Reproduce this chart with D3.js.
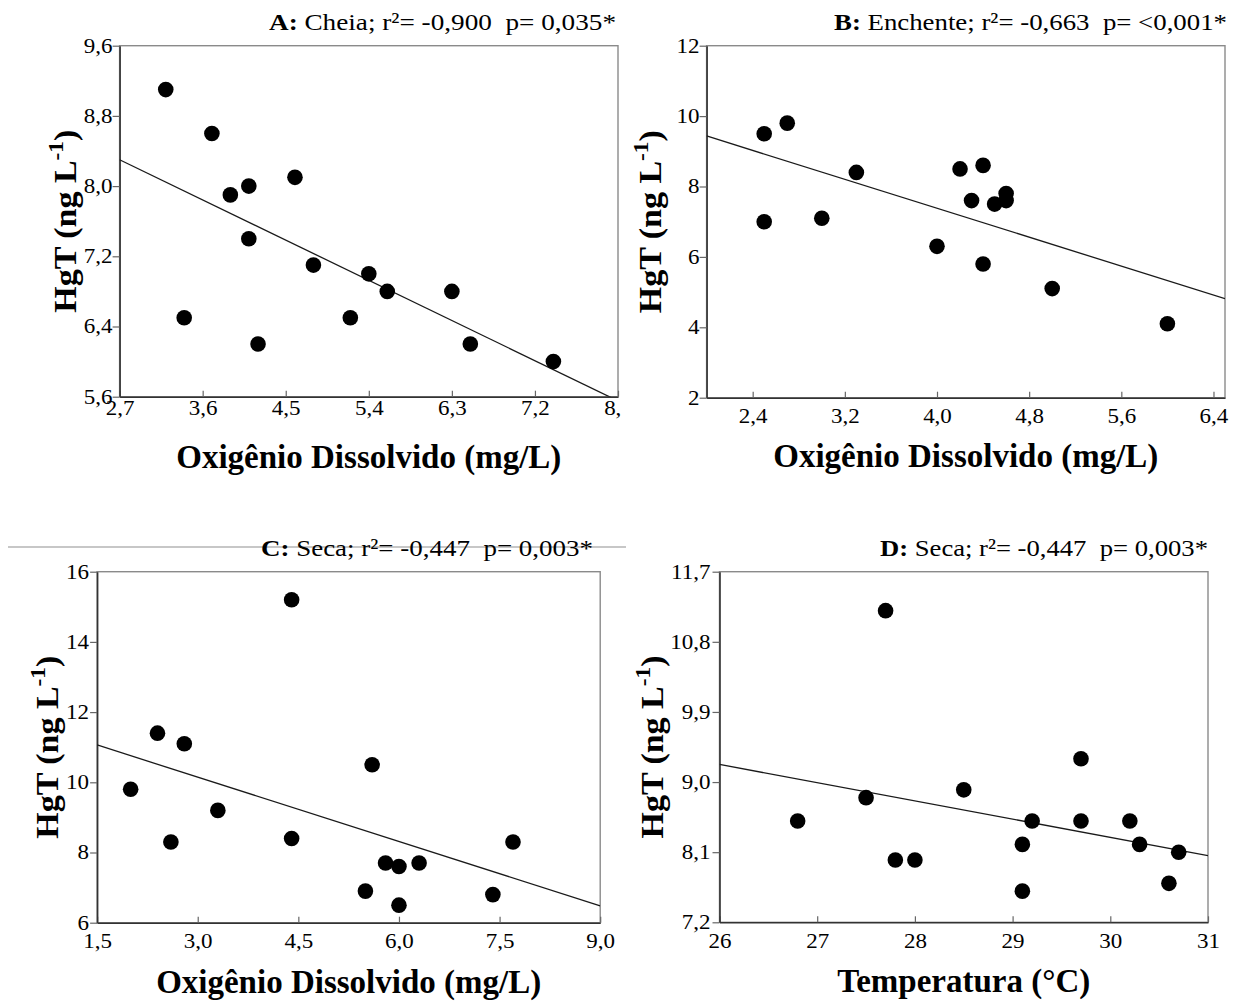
<!DOCTYPE html>
<html>
<head>
<meta charset="utf-8">
<script src="https://cdn.jsdelivr.net/npm/d3@7"></script>
<style>
    body { margin: 0; background: #fff; }
    text { font-family: "Liberation Serif", "Times New Roman", serif; fill: #000; }
</style>
</head>
<body>
<div id="chart"></div>
<script>
// ---- Data ----
// A: Cheia
var oxygenA = [3.2, 3.7, 3.9, 4.1, 4.1, 4.6, 3.4, 4.2, 4.8, 5.4, 5.6, 5.2, 6.3, 6.5, 7.4];
var hgtA    = [9.1, 8.6, 7.9, 8.0, 7.4, 8.1, 6.5, 6.2, 7.1, 7.0, 6.8, 6.5, 6.8, 6.2, 6.0];
var fitA    = [9.675, -0.509];           // intercept, slope
var xTicksA = [2.7, 3.6, 4.5, 5.4, 6.3, 7.2, 8.1];
var yTicksA = [5.6, 6.4, 7.2, 8.0, 8.8, 9.6];

// B: Enchente
var oxygenB = [2.5, 2.7, 2.5, 3.0, 3.3, 4.0, 4.2, 4.4, 4.3, 4.5, 4.6, 4.6, 4.4, 5.0, 6.0];
var hgtB    = [9.5, 9.8, 7.0, 7.1, 8.4, 6.3, 8.5, 8.6, 7.6, 7.5, 7.8, 7.6, 5.8, 5.1, 4.1];
var fitB    = [11.49, -1.027];
var xTicksB = [2.4, 3.2, 4.0, 4.8, 5.6, 6.4];
var yTicksB = [2, 4, 6, 8, 10, 12];

// C: Seca (oxigenio)
var oxygenC = [4.4, 2.4, 2.8, 2.0, 3.3, 2.6, 4.4, 5.6, 5.5, 5.8, 6.0, 6.0, 6.3, 7.4, 7.7];
var hgtC    = [15.2, 11.4, 11.1, 9.8, 9.2, 8.3, 8.4, 10.5, 6.9, 7.7, 7.6, 6.5, 7.7, 6.8, 8.3];
var fitC    = [11.98, -0.611];
var xTicksC = [1.5, 3.0, 4.5, 6.0, 7.5, 9.0];
var yTicksC = [6, 8, 10, 12, 14, 16];

// D: Seca (temperatura)
var tempD   = [27.7, 26.8, 27.5, 27.8, 28.0, 28.5, 29.1, 29.2, 29.1, 29.7, 29.7, 30.2, 30.3, 30.7, 30.6];
var hgtD    = [11.2, 8.5, 8.8, 8.0, 8.0, 8.9, 8.2, 8.5, 7.6, 9.3, 8.5, 8.5, 8.2, 8.1, 7.7];
var fitD    = [15.31, -0.234];
var xTicksD = [26, 27, 28, 29, 30, 31];
var yTicksD = [7.2, 8.1, 9.0, 9.9, 10.8, 11.7];

var panelLetters = ["A:", "B:", "C:", "D:"];
var seasons      = ["Cheia", "Enchente", "Seca", "Seca"];
var r2Values     = ["-0,900", "-0,663", "-0,447", "-0,447"];
var pValues      = ["0,035*", "<0,001*", "0,003*", "0,003*"];
var xTitles      = ["Oxigênio Dissolvido (mg/L)", "Oxigênio Dissolvido (mg/L)",
                    "Oxigênio Dissolvido (mg/L)", "Temperatura (°C)"];

var ptBR = d3.formatLocale({ decimal: ",", thousands: ".", grouping: [3], currency: ["R$", ""] });

var svg = d3.select("#chart")
    .append("svg")
    .attr("width", 1243)
    .attr("height", 1003);

// stray rule across the lower-left title (present in the source figure)
svg.append("line")
    .attr("x1", 8).attr("x2", 626)
    .attr("y1", 547).attr("y2", 547)
    .attr("stroke", "#b4b4b4")
    .attr("stroke-width", 1.4);

ScatterPanel = function(_svg, _opts){
    this.svg = _svg;
    this.opts = _opts;
    this.initVis();
};

ScatterPanel.prototype.initVis = function(){
    var vis = this;
    var o = vis.opts;

    vis.width = o.box[2] - o.box[0];
    vis.height = o.box[3] - o.box[1];

    vis.root = vis.svg.append("g");
    if (o.clipRight) {
        vis.root.append("clipPath").attr("id", "panel-clip-" + o.id)
            .append("rect")
            .attr("x", 0).attr("y", 0)
            .attr("width", o.clipRight).attr("height", 1003);
        vis.root.attr("clip-path", "url(#panel-clip-" + o.id + ")");
    }

    vis.g = vis.root.append("g")
        .attr("transform", "translate(" + o.box[0] + "," + o.box[1] + ")");

    // Scales
    vis.x = d3.scaleLinear().domain(o.xDomain).range([0, vis.width]);
    vis.y = d3.scaleLinear().domain(o.yDomain).range([vis.height, 0]);

    // Frame (top / right lighter)
    vis.g.append("rect")
        .attr("width", vis.width)
        .attr("height", vis.height)
        .attr("fill", "none")
        .attr("stroke", "#8a8a8a")
        .attr("stroke-width", 1.4);

    // X-axis, ticks pointing inside
    vis.xAxisCall = d3.axisBottom(vis.x)
        .tickValues(o.xTicks)
        .tickFormat(ptBR.format(o.xFormat))
        .tickSize(-6)
        .tickSizeOuter(0);
    vis.xAxis = vis.g.append("g")
        .attr("class", "x axis")
        .attr("transform", "translate(0," + vis.height + ")")
        .call(vis.xAxisCall);
    vis.xAxis.selectAll("text")
        .attr("y", 0)
        .attr("transform", "translate(0," + o.xLabelGap + ") scale(1.15,1)");

    // Y-axis, short ticks pointing out
    vis.yAxisCall = d3.axisLeft(vis.y)
        .tickValues(o.yTicks)
        .tickFormat(ptBR.format(o.yFormat))
        .tickSize(7)
        .tickSizeOuter(0);
    vis.yAxis = vis.g.append("g")
        .attr("class", "y axis")
        .call(vis.yAxisCall);
    vis.yAxis.selectAll("text")
        .attr("x", 0)
        .attr("transform", "translate(" + (-o.yLabelGap) + ",0) scale(1.15,1)");

    vis.g.selectAll(".axis")
        .attr("font-family", "'Liberation Serif', 'Times New Roman', serif")
        .attr("font-size", 20);
    vis.g.selectAll(".axis text").attr("fill", "#111");
    vis.g.selectAll(".axis .tick line").attr("stroke", "#666").attr("stroke-width", 1.2);
    vis.g.selectAll(".axis .domain").attr("stroke", "#333").attr("stroke-width", 1.6);

    // Regression line, clipped to the plot area
    vis.g.append("clipPath").attr("id", "plot-clip-" + o.id)
        .append("rect")
        .attr("width", vis.width)
        .attr("height", vis.height);

    var line = d3.line()
        .x(function(d){ return vis.x(d); })
        .y(function(d){ return vis.y(o.fit[0] + o.fit[1] * d); });

    vis.g.append("path")
        .attr("clip-path", "url(#plot-clip-" + o.id + ")")
        .attr("fill", "none")
        .attr("stroke", "#1a1a1a")
        .attr("stroke-width", 1.3)
        .attr("d", line(o.xDomain));

    // Points
    vis.g.selectAll(".dot")
        .data(d3.zip(o.xs, o.ys))
        .enter().append("circle")
        .attr("class", "dot")
        .attr("cx", function(d){ return vis.x(d[0]); })
        .attr("cy", function(d){ return vis.y(d[1]); })
        .attr("r", 7.8)
        .attr("fill", "#000");

    // Title
    var title = vis.svg.append("text")
        .attr("x", o.titleRight)
        .attr("y", o.titleY)
        .attr("text-anchor", "end")
        .attr("font-size", 24)
        .attr("textLength", o.titleLength)
        .attr("lengthAdjust", "spacingAndGlyphs")
        .style("white-space", "pre");
    title.append("tspan")
        .attr("font-weight", "bold")
        .text(o.letter);
    title.append("tspan")
        .text(" " + o.season + "; r²= " + o.r2 + "  p= " + o.p);

    // Axis labels
    vis.svg.append("text")
        .attr("x", o.box[0] + vis.width / 2)
        .attr("y", o.xTitleY)
        .attr("text-anchor", "middle")
        .attr("font-size", 33)
        .attr("font-weight", "bold")
        .text(o.xTitle);

    var yLabel = vis.svg.append("text")
        .attr("transform", "translate(" + o.yTitleX + "," + (o.box[1] + vis.height / 2) + ") rotate(-90)")
        .attr("text-anchor", "middle")
        .attr("font-size", 32)
        .attr("font-weight", "bold")
        .attr("textLength", 183)
        .attr("lengthAdjust", "spacingAndGlyphs");
    yLabel.append("tspan").text("HgT (ng L");
    yLabel.append("tspan").attr("font-size", 22).attr("dy", -13).text("-1");
    yLabel.append("tspan").attr("dy", 13).text(")");
};

var panels = [
    { id: "a", xs: oxygenA, ys: hgtA, fit: fitA, xTicks: xTicksA, yTicks: yTicksA,
      xDomain: [2.7, 8.1], yDomain: [5.6, 9.6], xFormat: ".1f", yFormat: ".1f",
      box: [119.6, 45.7, 618, 396.7], clipRight: 621,
      xLabelGap: 4, yLabelGap: 7, titleRight: 616, titleY: 30, titleLength: 347,
      xTitleY: 468, yTitleX: 76 },
    { id: "b", xs: oxygenB, ys: hgtB, fit: fitB, xTicks: xTicksB, yTicks: yTicksB,
      xDomain: [2.0, 6.5], yDomain: [2, 12], xFormat: ".1f", yFormat: "d",
      box: [706.6, 45.7, 1225, 397.7],
      xLabelGap: 11, yLabelGap: 7, titleRight: 1227, titleY: 30, titleLength: 393,
      xTitleY: 467, yTitleX: 661 },
    { id: "c", xs: oxygenC, ys: hgtC, fit: fitC, xTicks: xTicksC, yTicks: yTicksC,
      xDomain: [1.5, 9.0], yDomain: [6, 16], xFormat: ".1f", yFormat: "d",
      box: [97.1, 571.7, 600.2, 922.7],
      xLabelGap: 11, yLabelGap: 8, titleRight: 593, titleY: 556, titleLength: 332,
      xTitleY: 993, yTitleX: 58 },
    { id: "d", xs: tempD, ys: hgtD, fit: fitD, xTicks: xTicksD, yTicks: yTicksD,
      xDomain: [26, 31], yDomain: [7.2, 11.7], xFormat: "d", yFormat: ".1f",
      box: [719.5, 571.7, 1208, 922.3],
      xLabelGap: 11, yLabelGap: 9, titleRight: 1208, titleY: 556, titleLength: 328,
      xTitleY: 992, yTitleX: 663 }
];

panels.forEach(function(p, i){
    p.letter = panelLetters[i];
    p.season = seasons[i];
    p.r2 = r2Values[i];
    p.p = pValues[i];
    p.xTitle = xTitles[i];
    new ScatterPanel(svg, p);
});
</script>
</body>
</html>
